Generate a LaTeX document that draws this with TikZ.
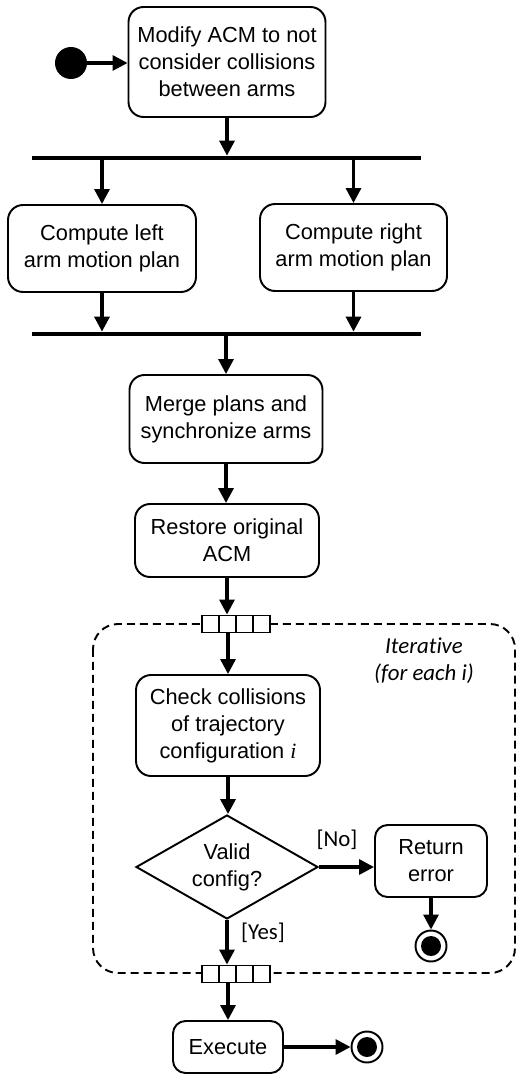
\documentclass[tikz,border=0pt]{standalone}
\usepackage{fontspec}
\setmainfont{Liberation Sans}
\newfontfamily\calfont[Ligatures=NoCommon]{Carlito}
\usetikzlibrary{arrows.meta,shapes.geometric}
\tikzset{
    actbox/.style={draw, line width=1.1pt, rounded corners=0.3cm, align=center, inner sep=0pt,
        font=\fontsize{12.4}{15.3}\selectfont},
    decision/.style={draw, diamond, line width=1.1pt, align=center, inner sep=0pt, aspect=1.75,
        minimum width=3.64cm, minimum height=2.08cm, font=\fontsize{12.4}{15.3}\selectfont},
    forkbar/.style={fill=black, inner sep=0pt, minimum width=7.78cm, minimum height=0.08cm},
    expnode/.style={draw, fill=white, line width=1.1pt, inner sep=0pt, minimum width=1.36cm, minimum height=0.34cm,
        path picture={\foreach \k in {1,2,3}
            \draw[line width=1.1pt] ([xshift=\k*0.34cm]path picture bounding box.north west) -- ([xshift=\k*0.34cm]path picture bounding box.south west);}},
    startnode/.style={circle, fill=black, inner sep=0pt, minimum size=0.64cm},
    endnode/.style={circle, draw, line width=1.1pt, fill=white, inner sep=0pt, minimum size=0.62cm,
        path picture={\fill[black] (path picture bounding box.center) circle (0.2cm);}},
    flow/.style={line width=1.8pt, -{Triangle[length=0.3cm,width=0.3cm]}},
    guard/.style={font=\calfont\fontsize{13}{15.3}\selectfont, inner sep=0pt, align=center}
}
\begin{document}
\begin{tikzpicture}[x=0.02cm, y=-0.02cm]
    \useasboundingbox (0,0) rectangle (518,1074);

    \draw[line width=1.1pt, dash pattern=on 0.16cm off 0.1cm, rounded corners=0.5cm] (93,624) rectangle (515,973);

    \node[startnode] (start) at (71,63) {};
    \node[actbox, minimum width=3.94cm, minimum height=2.2cm] (modify) at (227,62) {Modify ACM to not\\consider collisions\\between arms};
    \node[forkbar] (fork) at (226.5,158) {};
    \node[actbox, minimum width=3.76cm, minimum height=1.74cm] (left) at (102,248.5) {Compute left\\arm motion plan};
    \node[actbox, minimum width=3.74cm, minimum height=1.74cm] (right) at (353.5,247.5) {Compute right\\arm motion plan};
    \node[forkbar] (join) at (226.5,334) {};
    \node[actbox, minimum width=3.86cm, minimum height=1.76cm] (merge) at (226,419) {Merge plans and\\synchronize arms};
    \node[actbox, minimum width=3.68cm, minimum height=1.46cm] (restore) at (227,540.5) {Restore original\\ACM};
    \node[expnode] (expin) at (236,624) {};
    \node[actbox, minimum width=3.68cm, minimum height=2.02cm] (check) at (228,725.5) {Check collisions\\of trajectory\\configuration \textit{\fontspec{Liberation Serif}i}};
    \node[decision] (valid) at (227,867) {Valid\\config?};
    \node[actbox, minimum width=2.24cm, minimum height=1.44cm, rounded corners=0.25cm] (error) at (431,861) {Return\\error};
    \node[endnode] (errend) at (431,946) {};
    \node[expnode] (expout) at (236,974) {};
    \node[actbox, minimum width=2.2cm, minimum height=1.04cm, rounded corners=0.25cm] (execute) at (228,1047) {Execute};
    \node[endnode] (exeend) at (367,1047) {};

    \node[guard] (no) at (337,840) {[No]};
    \node[guard] (yes) at (263,933) {[Yes]};
    \node[guard, font=\calfont\itshape\fontsize{13}{15.3}\selectfont] (iter) at (424,661) {Iterative\\(for each i)};

    \draw[flow] (start.east) -- (start.east -| modify.west);
    \draw[flow] (modify.south) -- (modify.south |- fork.north);
    \draw[flow] (fork.south -| left.north) -- (left.north);
    \draw[flow] (fork.south -| right.north) -- (right.north);
    \draw[flow] (left.south) -- (left.south |- join.north);
    \draw[flow] (right.south) -- (right.south |- join.north);
    \draw[flow] (merge.north |- join.south) -- (merge.north);
    \draw[flow] (merge.south) -- (merge.south |- restore.north);
    \draw[flow] (restore.south) -- (restore.south |- expin.north);
    \draw[flow] (check.north |- expin.south) -- (check.north);
    \draw[flow] (check.south) -- (check.south |- valid.north);
    \draw[flow] (valid.east) -- (valid.east -| error.west);
    \draw[flow] (error.south) -- (errend.north);
    \draw[flow] (valid.south) -- (valid.south |- expout.north);
    \draw[flow] (execute.north |- expout.south) -- (execute.north);
    \draw[flow] (execute.east) -- (exeend.west);
\end{tikzpicture}
\end{document}
